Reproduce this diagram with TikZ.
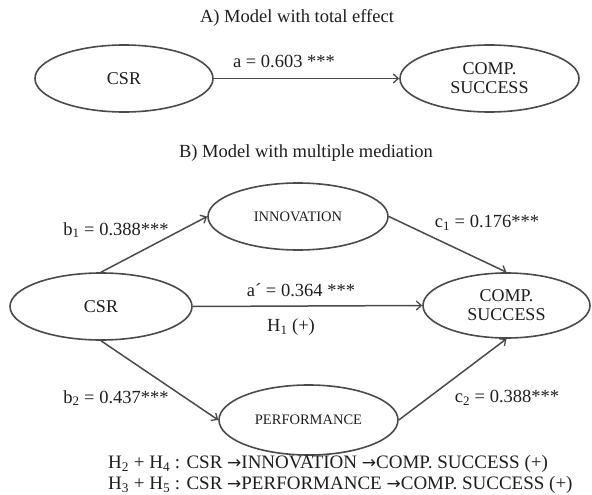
\documentclass[tikz,border=0pt]{standalone}
\usepackage{fontspec}
\setmainfont{Liberation Serif}
\newfontfamily\arrowfont{DejaVu Sans}
\usetikzlibrary{shapes.geometric,arrows.meta}
\definecolor{linegray}{HTML}{4A4A4A}
\definecolor{txt}{HTML}{1E1E1E}
\tikzset{
  oval/.style={ellipse, draw=linegray, line width=1.6pt, inner sep=0pt, align=center, text=txt, font=\fontsize{18}{19}\selectfont},
  smalloval/.style={oval, font=\fontsize{14.5}{16}\selectfont},
  lbl/.style={text=txt, font=\fontsize{18.5}{20}\selectfont, inner sep=0pt},
  conn/.style={draw=linegray, line width=1.5pt, -{Straight Barb[length=5pt,width=9pt,line width=1.3pt]}}
}
\newcommand{\myarrow}{{\arrowfont\fontsize{17}{18}\selectfont →}}
\begin{document}
\begin{tikzpicture}[x=1pt,y=-1pt]
\useasboundingbox (0,0) rectangle (592,495);
\fill[white] (0,0) rectangle (592,495);

% Part A
\node[lbl] (titleA) at (297,18) {A) Model with total effect};
\node[oval, minimum width=178pt, minimum height=67pt] (csrA) at (124,78.5) {CSR};
\node[oval, minimum width=179pt, minimum height=67pt] (compA) at (489.5,78.5) {COMP.\\SUCCESS};
\draw[conn] (csrA.east) -- (compA.west);
\node[lbl] (labA) at (284,61) {a = 0.603 ***};

% Part B
\node[lbl] (titleB) at (306,153) {B) Model with multiple mediation};
\node[smalloval, minimum width=180pt, minimum height=67pt] (inno) at (298,216.5) {INNOVATION};
\node[oval, minimum width=182pt, minimum height=67pt] (csrB) at (101,306.5) {CSR};
\node[oval, minimum width=167pt, minimum height=65pt] (compB) at (506.5,305.5) {COMP.\\SUCCESS};
\node[smalloval, minimum width=179pt, minimum height=70pt] (perf) at (308.5,420) {PERFORMANCE};

\draw[conn] (csrB.north) -- (inno.west);
\draw[conn] (inno.east) -- (compB.north);
\draw[conn] (csrB.east) -- (compB.west);
\draw[conn] (csrB.south) -- (perf.west);
\draw[conn] (perf.east) -- (compB.south);

\node[lbl] (labb1) at (116,230) {b\textsubscript{1} = 0.388***};
\node[lbl] (labc1) at (487,223) {c\textsubscript{1} = 0.176***};
\node[lbl] (laba2) at (301,290) {a´ = 0.364 ***};
\node[lbl] (labH1) at (291,327) {H\textsubscript{1} (+)};
\node[lbl] (labb2) at (116,398) {b\textsubscript{2} = 0.437***};
\node[lbl] (labc2) at (507,398) {c\textsubscript{2} = 0.388***};

\node[lbl, anchor=west, font=\fontsize{19}{20}\selectfont] (hyp1) at (108,464) {H\textsubscript{2} + H\textsubscript{4} : CSR \myarrow INNOVATION \myarrow COMP. SUCCESS (+)};
\node[lbl, anchor=west, font=\fontsize{19}{20}\selectfont] (hyp2) at (108,485) {H\textsubscript{3} + H\textsubscript{5} : CSR \myarrow PERFORMANCE \myarrow COMP. SUCCESS (+)};
\end{tikzpicture}
\end{document}
